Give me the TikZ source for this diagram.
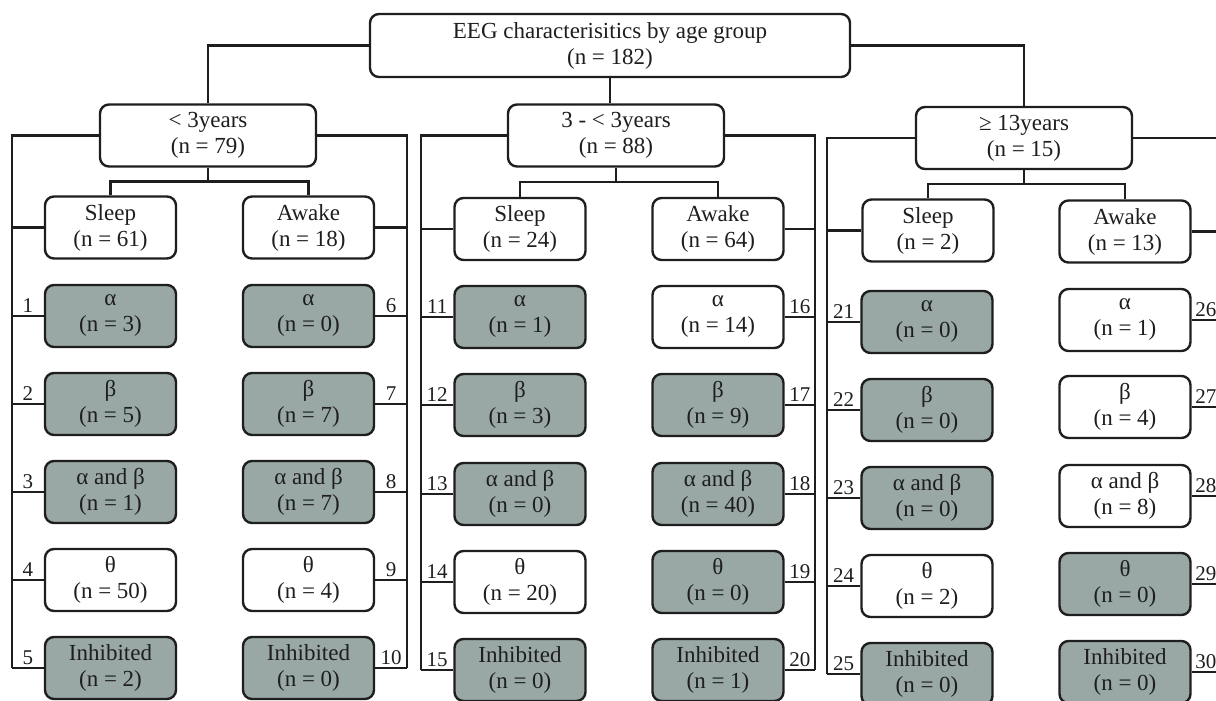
\documentclass[tikz,border=0pt]{standalone}
\usepackage{fontspec}
\setmainfont{Liberation Serif}
\usetikzlibrary{calc}
\definecolor{boxgray}{RGB}{153,167,165}
\definecolor{ink}{RGB}{30,30,30}
\begin{document}
\begin{tikzpicture}[x=1pt,y=-1pt,
  box/.style={draw=ink, line width=2.4pt, rounded corners=9pt, align=center, inner sep=0pt,
    minimum width=131pt, minimum height=62pt, font=\fontsize{23}{26}\selectfont, text=ink},
  wb/.style={box, fill=white},
  gb/.style={box, fill=boxgray},
  agebox/.style={wb, minimum width=216pt},
  rootbox/.style={wb, minimum width=480pt, minimum height=63pt},
  conn/.style={line width=2.4pt, draw=ink},
  num/.style={font=\fontsize{21}{21}\selectfont, inner sep=2pt, above, text=ink}
]
\useasboundingbox (0,0) rectangle (1216,701);
\clip (0,0) rectangle (1216,701);

% root and age groups
\node[rootbox] (root) at (610,45.5) {EEG characterisitics by age group\\(n = 182)};
\node[agebox] (a1) at (208,135.5) {< 3years\\(n = 79)};
\node[agebox] (a2) at (616,135.5) {3 - < 3years\\(n = 88)};
\node[agebox] (a3) at (1024,138) {≥ 13years\\(n = 15)};

% sleep / awake
\node[wb] (s1) at (110.5,227.5) {Sleep\\(n = 61)};
\node[wb] (w1) at (308.5,227.5) {Awake\\(n = 18)};
\node[wb] (s2) at (520,229) {Sleep\\(n = 24)};
\node[wb] (w2) at (718,229) {Awake\\(n = 64)};
\node[wb] (s3) at (928,230.5) {Sleep\\(n = 2)};
\node[wb] (w3) at (1125,231.5) {Awake\\(n = 13)};

% column 1 (sleep, < 3years)
\node[gb] (n1) at (110.5,316) {α\\(n = 3)};
\node[gb] (n2) at (110.5,404) {β\\(n = 5)};
\node[gb] (n3) at (110.5,492) {α and β\\(n = 1)};
\node[wb] (n4) at (110.5,580) {θ\\(n = 50)};
\node[gb] (n5) at (110.5,668) {Inhibited\\(n = 2)};
% column 2 (awake, < 3years)
\node[gb] (n6) at (308.5,316) {α\\(n = 0)};
\node[gb] (n7) at (308.5,404) {β\\(n = 7)};
\node[gb] (n8) at (308.5,492) {α and β\\(n = 7)};
\node[wb] (n9) at (308.5,580) {θ\\(n = 4)};
\node[gb] (n10) at (308.5,668) {Inhibited\\(n = 0)};
% column 3 (sleep, 3 - < 3years)
\node[gb] (n11) at (520,317) {α\\(n = 1)};
\node[gb] (n12) at (520,405) {β\\(n = 3)};
\node[gb] (n13) at (520,494) {α and β\\(n = 0)};
\node[wb] (n14) at (520,582) {θ\\(n = 20)};
\node[gb] (n15) at (520,670) {Inhibited\\(n = 0)};
% column 4 (awake, 3 - < 3years)
\node[wb] (n16) at (718,317) {α\\(n = 14)};
\node[gb] (n17) at (718,405) {β\\(n = 9)};
\node[gb] (n18) at (718,494) {α and β\\(n = 40)};
\node[gb] (n19) at (718,582) {θ\\(n = 0)};
\node[gb] (n20) at (718,670) {Inhibited\\(n = 1)};
% column 5 (sleep, >= 13years)
\node[gb] (n21) at (927,322) {α\\(n = 0)};
\node[gb] (n22) at (927,410) {β\\(n = 0)};
\node[gb] (n23) at (927,498) {α and β\\(n = 0)};
\node[wb] (n24) at (927,586) {θ\\(n = 2)};
\node[gb] (n25) at (927,674) {Inhibited\\(n = 0)};
% column 6 (awake, >= 13years)
\node[wb] (n26) at (1125,320) {α\\(n = 1)};
\node[wb] (n27) at (1125,407) {β\\(n = 4)};
\node[wb] (n28) at (1125,496) {α and β\\(n = 8)};
\node[gb] (n29) at (1125,584) {θ\\(n = 0)};
\node[gb] (n30) at (1125,672) {Inhibited\\(n = 0)};

% column rails
\coordinate (L1) at (12,0);
\coordinate (R1) at (407,0);
\coordinate (L2) at (421,0);
\coordinate (R2) at (815,0);
\coordinate (L3) at (827,0);
\coordinate (R3) at (1220,0);

% root connectors
\draw[conn] (root.west) -| (a1.north);
\draw[conn] (root.east) -| (a3.north);
\draw[conn] (root.south) -- (root.south |- a2.north);

% age group -> sleep/awake
\coordinate (j1) at ($(a1.south)!0.5!(a1.south |- s1.north)$);
\coordinate (j2) at ($(a2.south)!0.5!(a2.south |- s2.north)$);
\coordinate (j3) at ($(a3.south)!0.5!(a3.south |- s3.north)$);
\draw[conn] (a1.south) -- (j1);
\draw[conn] (s1.north) |- (j1) -| (w1.north);
\draw[conn] (a2.south) -- (j2);
\draw[conn] (s2.north) |- (j2) -| (w2.north);
\draw[conn] (a3.south) -- (j3);
\draw[conn] (s3.north) |- (j3) -| (w3.north);

% side rails
\draw[conn] (a1.west) -| (n5.west -| L1);
\draw[conn] (a1.east) -| (n10.east -| R1);
\draw[conn] (a2.west) -| (n15.west -| L2);
\draw[conn] (a2.east) -| (n20.east -| R2);
\draw[conn] (a3.west) -| (n25.west -| L3);
\draw[conn] (a3.east) -| (n30.east -| R3);

% sleep / awake stubs
\draw[conn] (s1.west) -- (s1.west -| L1);
\draw[conn] (w1.east) -- (w1.east -| R1);
\draw[conn] (s2.west) -- (s2.west -| L2);
\draw[conn] (w2.east) -- (w2.east -| R2);
\draw[conn] (s3.west) -- (s3.west -| L3);
\draw[conn] (w3.east) -- (w3.east -| R3);

% numbered stubs
\draw[conn] (n1.west) -- node[num]{1} (n1.west -| L1);
\draw[conn] (n2.west) -- node[num]{2} (n2.west -| L1);
\draw[conn] (n3.west) -- node[num]{3} (n3.west -| L1);
\draw[conn] (n4.west) -- node[num]{4} (n4.west -| L1);
\draw[conn] (n5.west) -- node[num]{5} (n5.west -| L1);
\draw[conn] (n6.east) -- node[num]{6} (n6.east -| R1);
\draw[conn] (n7.east) -- node[num]{7} (n7.east -| R1);
\draw[conn] (n8.east) -- node[num]{8} (n8.east -| R1);
\draw[conn] (n9.east) -- node[num]{9} (n9.east -| R1);
\draw[conn] (n10.east) -- node[num]{10} (n10.east -| R1);
\draw[conn] (n11.west) -- node[num]{11} (n11.west -| L2);
\draw[conn] (n12.west) -- node[num]{12} (n12.west -| L2);
\draw[conn] (n13.west) -- node[num]{13} (n13.west -| L2);
\draw[conn] (n14.west) -- node[num]{14} (n14.west -| L2);
\draw[conn] (n15.west) -- node[num]{15} (n15.west -| L2);
\draw[conn] (n16.east) -- node[num]{16} (n16.east -| R2);
\draw[conn] (n17.east) -- node[num]{17} (n17.east -| R2);
\draw[conn] (n18.east) -- node[num]{18} (n18.east -| R2);
\draw[conn] (n19.east) -- node[num]{19} (n19.east -| R2);
\draw[conn] (n20.east) -- node[num]{20} (n20.east -| R2);
\draw[conn] (n21.west) -- node[num]{21} (n21.west -| L3);
\draw[conn] (n22.west) -- node[num]{22} (n22.west -| L3);
\draw[conn] (n23.west) -- node[num]{23} (n23.west -| L3);
\draw[conn] (n24.west) -- node[num]{24} (n24.west -| L3);
\draw[conn] (n25.west) -- node[num]{25} (n25.west -| L3);
\draw[conn] (n26.east) -- node[num]{26} (n26.east -| R3);
\draw[conn] (n27.east) -- node[num]{27} (n27.east -| R3);
\draw[conn] (n28.east) -- node[num]{28} (n28.east -| R3);
\draw[conn] (n29.east) -- node[num]{29} (n29.east -| R3);
\draw[conn] (n30.east) -- node[num]{30} (n30.east -| R3);
\end{tikzpicture}
\end{document}
